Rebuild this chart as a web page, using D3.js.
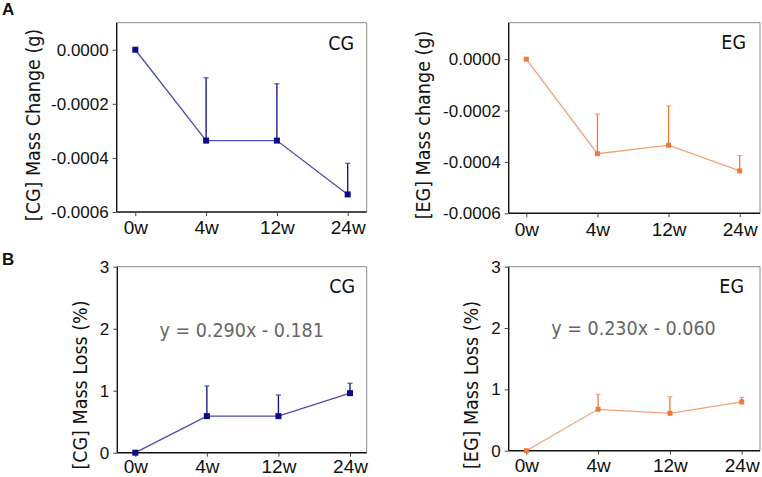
<!DOCTYPE html>
<html><head><meta charset="utf-8">
<script src="https://cdn.jsdelivr.net/npm/d3@7"></script>
<style>
html,body{margin:0;padding:0;background:#fff;}
svg{display:block;font-family:"DejaVu Sans Condensed","DejaVu Sans",sans-serif;font-stretch:condensed;}
</style></head>
<body><svg id="c" width="762" height="477"></svg>
<script>
const weeks = ["0w","4w","12w","24w"];
const cgMassChange = [0, -0.000336, -0.000336, -0.000535];
const cgMassChangeErr = [0, 0.000232, 0.00021, 0.000115];
const egMassChange = [0, -0.000368, -0.000335, -0.000435];
const egMassChangeErr = [0, 0.000154, 0.000153, 0.00006];
const cgMassLoss = [0, 0.59, 0.59, 0.96];
const cgMassLossErr = [0, 0.485, 0.34, 0.16];
const egMassLoss = [0, 0.675, 0.61, 0.795];
const egMassLossErr = [0, 0.245, 0.27, 0.075];
const changeTicks = [0, -0.0002, -0.0004, -0.0006];
const changeTickLabels = ["0.0000","-0.0002","-0.0004","-0.0006"];
const lossTicks = [0, 1, 2, 3];
const lossTickLabels = ["0","1","2","3"];
const cgEquation = "y = 0.290x - 0.181";
const egEquation = "y = 0.230x - 0.060";

const svg = d3.select("#c");
const styles = {
  cg: {marker:"#0b0b85", line:"#4b4bb0"},
  eg: {marker:"#f2783a", line:"#f4a274"}
};

const panels = [
  {x0:116.7,x1:366.7,y0:22.7,y1:212,px0:135.3,px1:347.7,domain:[-0.0006,0.0001],vals:cgMassChange,err:cgMassChangeErr,
   ticks:changeTicks,tickLabels:changeTickLabels,ylabel:"[CG] Mass Change (g)",lx:33,ly:125,tag:"CG",tx:354,ty:49.5,st:styles.cg,ms:6,xpad:5},
  {x0:508.7,x1:760,y0:22.7,y1:213.3,px0:526.3,px1:739.7,domain:[-0.0006,0.000142],vals:egMassChange,err:egMassChangeErr,
   ticks:changeTicks,tickLabels:changeTickLabels,ylabel:"[EG] Mass change (g)",lx:423,ly:125,tag:"EG",tx:746,ty:48.5,st:styles.eg,ms:5,xpad:5},
  {x0:117.3,x1:366.7,y0:266.7,y1:452.7,px0:135.3,px1:350,domain:[0,3],vals:cgMassLoss,err:cgMassLossErr,
   ticks:lossTicks,tickLabels:lossTickLabels,ylabel:"[CG] Mass Loss (%)",lx:80,ly:385,tag:"CG",tx:355,ty:293,st:styles.cg,ms:6,xpad:3,
   eq:cgEquation,ex:241.7,ey:336.5},
  {x0:508.7,x1:760,y0:266.7,y1:450.7,px0:526.3,px1:741.7,domain:[0,3],vals:egMassLoss,err:egMassLossErr,
   ticks:lossTicks,tickLabels:lossTickLabels,ylabel:"[EG] Mass Loss (%)",lx:471,ly:385,tag:"EG",tx:744,ty:292.5,st:styles.eg,ms:5,xpad:4,
   eq:egEquation,ex:633.5,ey:335}
];

panels.forEach(p => {
  const g = svg.append("g");
  const x = d3.scalePoint().domain(weeks).range([p.px0, p.px1]);
  const y = d3.scaleLinear().domain(p.domain).range([p.y1, p.y0]);
  g.append("path").attr("d", `M${p.x0},${p.y0}H${p.x1}V${p.y1}`).attr("fill","none").attr("stroke","#8a8a8a").attr("stroke-width",1);
  const ya = d3.axisLeft(y).tickValues(p.ticks).tickFormat((d,i)=>p.tickLabels[i]).tickSize(4).tickPadding(4).tickSizeOuter(0);
  const yg = g.append("g").attr("transform",`translate(${p.x0},0)`).call(ya);
  yg.select(".domain").attr("d",`M0,${p.y0}V${p.y1}`).attr("stroke","#111").attr("stroke-width",1.4);
  yg.selectAll("text").attr("font-size",17).attr("fill","#111").attr("font-family",null);
  yg.selectAll(".tick line").attr("stroke","#444");
  const xa = d3.axisBottom(x).tickSize(4).tickPadding(p.xpad).tickSizeOuter(0);
  const xg = g.append("g").attr("transform",`translate(0,${p.y1})`).call(xa);
  xg.select(".domain").attr("d",`M${p.x0},0H${p.x1}`).attr("stroke","#111").attr("stroke-width",1.4);
  xg.selectAll("text").attr("font-size",19).attr("fill","#111").attr("font-family",null);
  xg.selectAll(".tick line").attr("stroke","#444");
  const line = d3.line().x((d,i)=>x(weeks[i])).y(d=>y(d));
  g.append("path").datum(p.vals).attr("d",line).attr("fill","none").attr("stroke",p.st.line).attr("stroke-width",1.3);
  p.vals.forEach((v,i)=>{
    if (!p.err[i]) return;
    const cx = x(weeks[i]), yt = y(v + p.err[i]);
    g.append("line").attr("x1",cx).attr("x2",cx).attr("y1",y(v)).attr("y2",yt).attr("stroke",p.st.marker).attr("stroke-width",1.3);
    g.append("line").attr("x1",cx-2.5).attr("x2",cx+2.5).attr("y1",yt).attr("y2",yt).attr("stroke",p.st.line).attr("stroke-width",1.2);
  });
  g.selectAll("rect.m").data(p.vals).enter().append("rect").attr("class","m")
    .attr("x",(d,i)=>x(weeks[i])-p.ms/2).attr("y",d=>y(d)-p.ms/2)
    .attr("width",p.ms).attr("height",p.ms).attr("fill",p.st.marker);
  g.append("text").attr("transform",`translate(${p.lx},${p.ly}) rotate(-90)`)
    .attr("text-anchor","middle").attr("dominant-baseline","central")
    .attr("font-size",19.5).attr("fill","#111").text(p.ylabel);
  g.append("text").attr("x",p.tx).attr("y",p.ty).attr("text-anchor","end").attr("font-size",19.5).attr("fill","#111").text(p.tag);
  if (p.eq) {
    g.append("text").attr("x",p.ex).attr("y",p.ey).attr("text-anchor","middle").attr("font-size",19.5).attr("fill","#666").text(p.eq);
  }
});

svg.append("text").attr("x",2).attr("y",15).attr("font-family","Liberation Sans, Arial, sans-serif").attr("font-weight","bold").attr("font-size",17).attr("fill","#111").text("A");
svg.append("text").attr("x",2).attr("y",265).attr("font-family","Liberation Sans, Arial, sans-serif").attr("font-weight","bold").attr("font-size",17).attr("fill","#111").text("B");
</script></body></html>
